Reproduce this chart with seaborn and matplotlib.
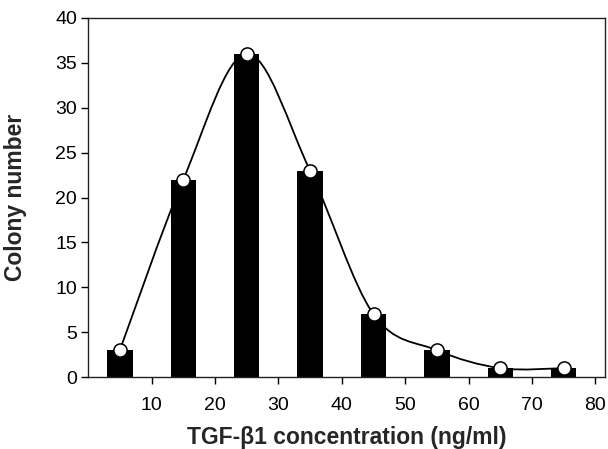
import numpy as np
import pandas as pd
import matplotlib
matplotlib.use("Agg")
import matplotlib.pyplot as plt
from matplotlib.path import Path
from matplotlib.patches import PathPatch
import seaborn as sns

# Datos
concentration = [5, 15, 25, 35, 45, 55, 65, 75]
colonies = [3, 22, 36, 23, 7, 3, 1, 1]

df = pd.DataFrame({"conc": concentration, "colonies": colonies})

sns.set_theme(style="ticks")
plt.rcParams["font.family"] = ["Liberation Sans", "DejaVu Sans"]

fig = plt.figure(figsize=(6.08, 4.49), dpi=100)
ax = fig.add_axes([0.145, 0.16, 0.85, 0.8])

sns.barplot(data=df, x="conc", y="colonies", native_scale=True, width=0.4,
            color="black", saturation=1, edgecolor="black", linewidth=0, ax=ax)

# curva suave (Catmull-Rom -> Bezier) a través de los puntos
pts = np.column_stack([df["conc"], df["colonies"]]).astype(float)
ext = np.vstack([pts[0], pts, pts[-1]])
verts = [tuple(pts[0])]
codes = [Path.MOVETO]
for i in range(len(pts) - 1):
    p0, p1, p2, p3 = ext[i], ext[i + 1], ext[i + 2], ext[i + 3]
    c1 = p1 + (p2 - p0) / 6
    c2 = p2 - (p3 - p1) / 6
    verts += [tuple(c1), tuple(c2), tuple(p2)]
    codes += [Path.CURVE4] * 3
ax.add_patch(PathPatch(Path(verts, codes), facecolor="none", edgecolor="black",
                       linewidth=1.3, zorder=3))

sns.scatterplot(data=df, x="conc", y="colonies", s=90, color="white",
                edgecolor="black", linewidth=1.1, zorder=4, ax=ax)

ax.set_xlim(0, 81.5)
ax.set_ylim(0, 40)
ax.set_xticks([10, 20, 30, 40, 50, 60, 70, 80])
ax.set_yticks([0, 5, 10, 15, 20, 25, 30, 35, 40])
ax.tick_params(axis="both", direction="out", length=5, width=1, labelsize=14,
               colors="black", pad=3)
ax.tick_params(axis="x", pad=9)
for side in ["top", "right", "left", "bottom"]:
    ax.spines[side].set_visible(True)
    ax.spines[side].set_color("#222222")
    ax.spines[side].set_linewidth(1.0)

ax.set_xlabel("TGF-β1 concentration (ng/ml)", fontsize=16.5, fontweight="bold")
ax.set_ylabel("Colony number", fontsize=16.5, fontweight="bold")
ax.xaxis.set_label_coords(0.5, -0.135)
ax.yaxis.set_label_coords(-0.118, 0.5)

fig.savefig("out.png", dpi=100)
